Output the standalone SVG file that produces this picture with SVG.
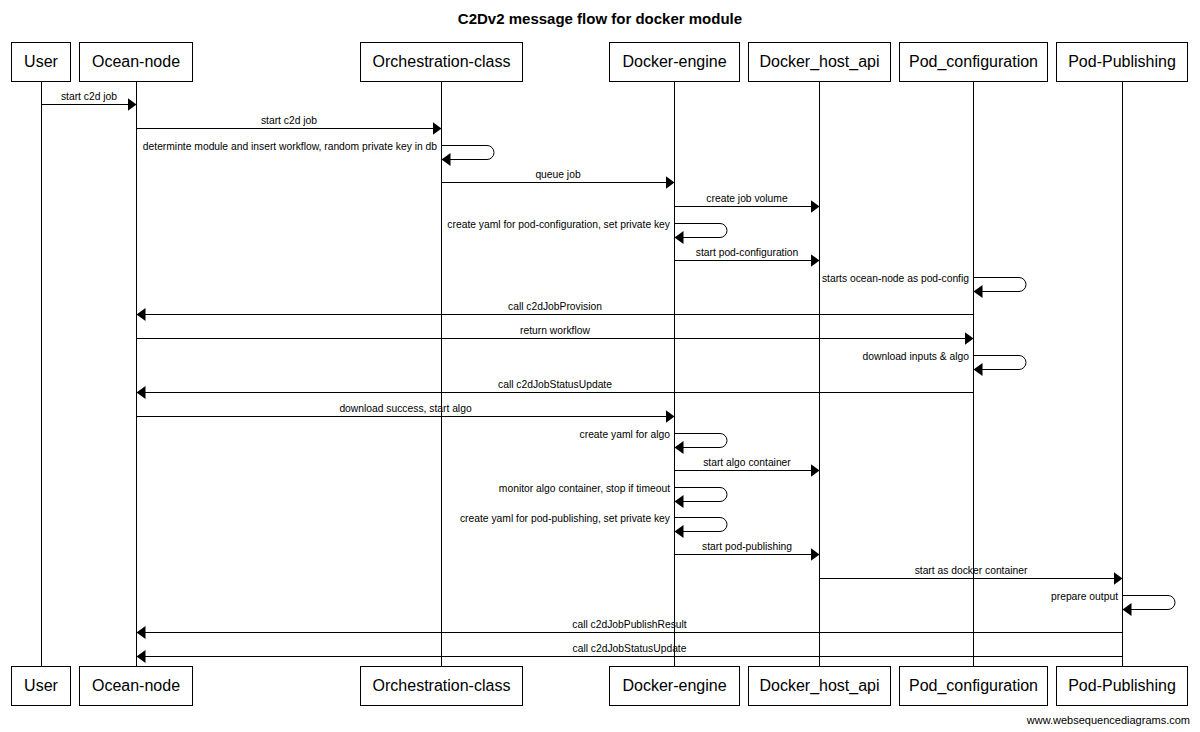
<svg xmlns="http://www.w3.org/2000/svg" width="1200" height="732" viewBox="0 0 1200 732">
<style>
.bg{fill:#fff}
.box{fill:#fff;stroke:#000;stroke-width:1}
.bt{font-family:"Liberation Sans",Arial,sans-serif;font-size:16px;text-anchor:middle;fill:#000}
.title{font-family:"Liberation Sans",Arial,sans-serif;font-size:15px;font-weight:bold;text-anchor:middle;fill:#000}
.life{stroke:#000;stroke-width:1;fill:none}
.msg{stroke:#000;stroke-width:1;fill:none;marker-end:url(#ah)}
.ml{font-family:"Liberation Sans",Arial,sans-serif;font-size:10.3px;text-anchor:middle;fill:#000}
.sl{font-family:"Liberation Sans",Arial,sans-serif;font-size:10.3px;text-anchor:end;fill:#000}
.foot{font-family:"Liberation Sans",Arial,sans-serif;font-size:11px;text-anchor:end;fill:#000}
</style>
<defs>
<marker id="ah" markerUnits="userSpaceOnUse" markerWidth="10" markerHeight="14" refX="9" refY="6.5" orient="auto">
<path d="M0,0 L9,6.5 L0,13 z" fill="#000"/>
</marker>
</defs>
<rect class="bg" x="0" y="0" width="1200" height="732"/>
<text class="title" x="600" y="24">C2Dv2 message flow for docker module</text>

<g id="lifelines">
<line class="life" x1="41.5" y1="81" x2="41.5" y2="666"/>
<line class="life" x1="136.5" y1="81" x2="136.5" y2="666"/>
<line class="life" x1="441.5" y1="81" x2="441.5" y2="666"/>
<line class="life" x1="674.5" y1="81" x2="674.5" y2="666"/>
<line class="life" x1="819.5" y1="81" x2="819.5" y2="666"/>
<line class="life" x1="973.5" y1="81" x2="973.5" y2="666"/>
<line class="life" x1="1122.5" y1="81" x2="1122.5" y2="666"/>
</g>

<g id="user">
<rect class="box" x="11.5" y="42.5" width="59" height="39"/>
<text class="bt" x="41" y="67">User</text>
<rect class="box" x="11.5" y="666.5" width="59" height="39"/>
<text class="bt" x="41" y="691">User</text>
</g>
<g id="ocean-node">
<rect class="box" x="79.5" y="42.5" width="113" height="39"/>
<text class="bt" x="136" y="67">Ocean-node</text>
<rect class="box" x="79.5" y="666.5" width="113" height="39"/>
<text class="bt" x="136" y="691">Ocean-node</text>
</g>
<g id="orchestration-class">
<rect class="box" x="360.5" y="42.5" width="162" height="39"/>
<text class="bt" x="441.5" y="67">Orchestration-class</text>
<rect class="box" x="360.5" y="666.5" width="162" height="39"/>
<text class="bt" x="441.5" y="691">Orchestration-class</text>
</g>
<g id="docker-engine">
<rect class="box" x="609.5" y="42.5" width="130" height="39"/>
<text class="bt" x="674.5" y="67">Docker-engine</text>
<rect class="box" x="609.5" y="666.5" width="130" height="39"/>
<text class="bt" x="674.5" y="691">Docker-engine</text>
</g>
<g id="docker-host-api">
<rect class="box" x="748.5" y="42.5" width="142" height="39"/>
<text class="bt" x="819.5" y="67">Docker_host_api</text>
<rect class="box" x="748.5" y="666.5" width="142" height="39"/>
<text class="bt" x="819.5" y="691">Docker_host_api</text>
</g>
<g id="pod-configuration">
<rect class="box" x="899.5" y="42.5" width="148" height="39"/>
<text class="bt" x="973.5" y="67">Pod_configuration</text>
<rect class="box" x="899.5" y="666.5" width="148" height="39"/>
<text class="bt" x="973.5" y="691">Pod_configuration</text>
</g>
<g id="pod-publishing">
<rect class="box" x="1056.5" y="42.5" width="131" height="39"/>
<text class="bt" x="1122" y="67">Pod-Publishing</text>
<rect class="box" x="1056.5" y="666.5" width="131" height="39"/>
<text class="bt" x="1122" y="691">Pod-Publishing</text>
</g>

<g id="connectors">
<path class="msg" d="M41.5,104.5 H136.5"/>
<text class="ml" x="89" y="100">start c2d job</text>

<path class="msg" d="M136.5,128.5 H441.5"/>
<text class="ml" x="289" y="124">start c2d job</text>

<path class="msg" d="M441.5,145.5 H487 A7,7 0 0 1 487,159.5 H441.5"/>
<text class="sl" x="437" y="150">determinte module and insert workflow, random private key in db</text>

<path class="msg" d="M441.5,182.5 H674.5"/>
<text class="ml" x="558" y="178">queue job</text>

<path class="msg" d="M674.5,206.5 H819.5"/>
<text class="ml" x="747" y="202">create job volume</text>

<path class="msg" d="M674.5,223.5 H720 A7,7 0 0 1 720,237.5 H674.5"/>
<text class="sl" x="670" y="228">create yaml for pod-configuration, set private key</text>

<path class="msg" d="M674.5,260.5 H819.5"/>
<text class="ml" x="747" y="256">start pod-configuration</text>

<path class="msg" d="M973.5,277.5 H1019 A7,7 0 0 1 1019,291.5 H973.5"/>
<text class="sl" x="969" y="282">starts ocean-node as pod-config</text>

<path class="msg" d="M973.5,314.5 H136.5"/>
<text class="ml" x="555" y="310">call c2dJobProvision</text>

<path class="msg" d="M136.5,338.5 H973.5"/>
<text class="ml" x="555" y="334">return workflow</text>

<path class="msg" d="M973.5,355.5 H1019 A7,7 0 0 1 1019,369.5 H973.5"/>
<text class="sl" x="969" y="360">download inputs &amp; algo</text>

<path class="msg" d="M973.5,392.5 H136.5"/>
<text class="ml" x="555" y="388">call c2dJobStatusUpdate</text>

<path class="msg" d="M136.5,416.5 H674.5"/>
<text class="ml" x="405.5" y="412">download success, start algo</text>

<path class="msg" d="M674.5,433.5 H720 A7,7 0 0 1 720,447.5 H674.5"/>
<text class="sl" x="670" y="438">create yaml for algo</text>

<path class="msg" d="M674.5,470.5 H819.5"/>
<text class="ml" x="747" y="466">start algo container</text>

<path class="msg" d="M674.5,487.5 H720 A7,7 0 0 1 720,501.5 H674.5"/>
<text class="sl" x="670" y="492">monitor algo container, stop if timeout</text>

<path class="msg" d="M674.5,517.5 H720 A7,7 0 0 1 720,531.5 H674.5"/>
<text class="sl" x="670" y="522">create yaml for pod-publishing, set private key</text>

<path class="msg" d="M674.5,554.5 H819.5"/>
<text class="ml" x="747" y="550">start pod-publishing</text>

<path class="msg" d="M819.5,578.5 H1122.5"/>
<text class="ml" x="971" y="574">start as docker container</text>

<path class="msg" d="M1122.5,595.5 H1168 A7,7 0 0 1 1168,609.5 H1122.5"/>
<text class="sl" x="1118" y="600">prepare output</text>

<path class="msg" d="M1122.5,632.5 H136.5"/>
<text class="ml" x="629.5" y="628">call c2dJobPublishResult</text>

<path class="msg" d="M1122.5,656.5 H136.5"/>
<text class="ml" x="629.5" y="652">call c2dJobStatusUpdate</text>
</g>

<text class="foot" x="1190" y="724">www.websequencediagrams.com</text>
</svg>
